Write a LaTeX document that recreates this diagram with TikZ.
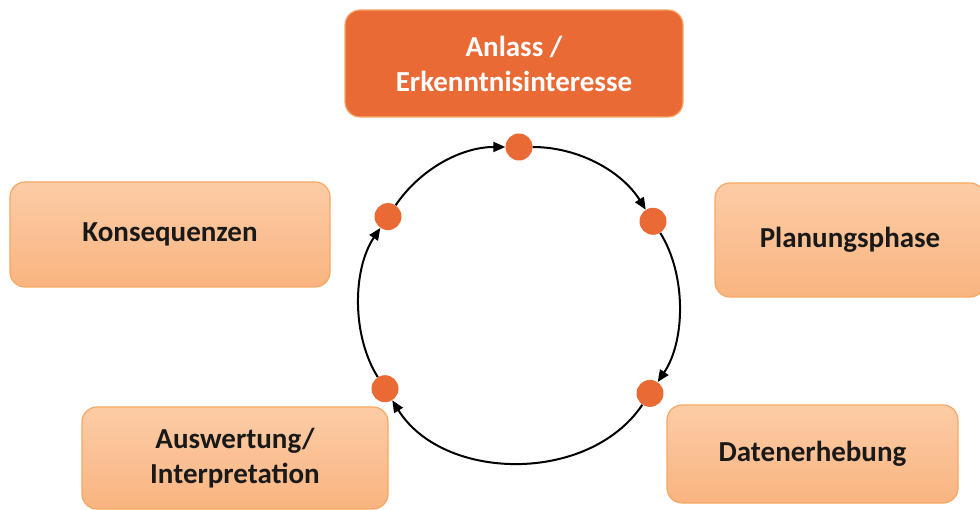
\documentclass[tikz,border=0pt]{standalone}
\usepackage{fontspec}
\setmainfont{Carlito}
\usetikzlibrary{ arrows.meta, % For the triangle tips
                 shapes,      % For circles and so
               }
\definecolor{darkorange}{RGB}{234,106,54}
\definecolor{lightorangetop}{RGB}{252,204,166}
\definecolor{lightorangebottom}{RGB}{249,180,128}
\definecolor{borderorange}{RGB}{246,168,98}

\begin{document}
\begin{tikzpicture}[x=1pt, y=1pt,
  box/.style={draw=borderorange, line width=1.2pt, rounded corners=15pt,
              align=center, font=\fontsize{29}{35}\selectfont\bfseries},
  phase/.style={box, top color=lightorangetop, bottom color=lightorangebottom, text=black!90},
  start/.style={box, fill=darkorange, text=white},
  dot/.style={circle, fill=darkorange, minimum size=27pt, inner sep=0pt},
  flow/.style={line width=2pt, -{Triangle[length=12pt, width=10pt]}}]
  \useasboundingbox (0,0) rectangle (980,509);

  \node[start, minimum width=338pt, minimum height=107pt] (anlass) at (514,445.5) {Anlass /\\Erkenntnisinteresse};
  \node[phase, minimum width=320pt, minimum height=105pt] (konsequenzen) at (170,274.5) {Konsequenzen};
  \node[phase, minimum width=270pt, minimum height=114pt] (planung) at (850,269) {Planungsphase};
  \node[phase, minimum width=306pt, minimum height=102pt] (auswertung) at (235,51) {Auswertung/\\Interpretation};
  \node[phase, minimum width=291pt, minimum height=98pt] (daten) at (812.5,55) {Datenerhebung};

  % the cycle, clockwise
  \node[dot] (anlass_dot) at (519,362) {};
  \node[dot] (planung_dot) at (653,287.7) {};
  \node[dot] (daten_dot) at (650,115.6) {};
  \node[dot] (auswertung_dot) at (385,120.3) {};
  \node[dot] (konsequenzen_dot) at (388,292.4) {};

  \draw[flow] (anlass_dot) to[bend left=29, looseness=0.9] (planung_dot);
  \draw[flow] (planung_dot) to[bend left=33, looseness=0.85] (daten_dot);
  \draw[flow] (daten_dot) to[bend left=57, looseness=0.98] (auswertung_dot);
  \draw[flow] (auswertung_dot) to[bend left=33, looseness=0.85] (konsequenzen_dot);
  \draw[flow] (konsequenzen_dot) to[bend left=28, looseness=0.9] (anlass_dot);
\end{tikzpicture}
\end{document}
